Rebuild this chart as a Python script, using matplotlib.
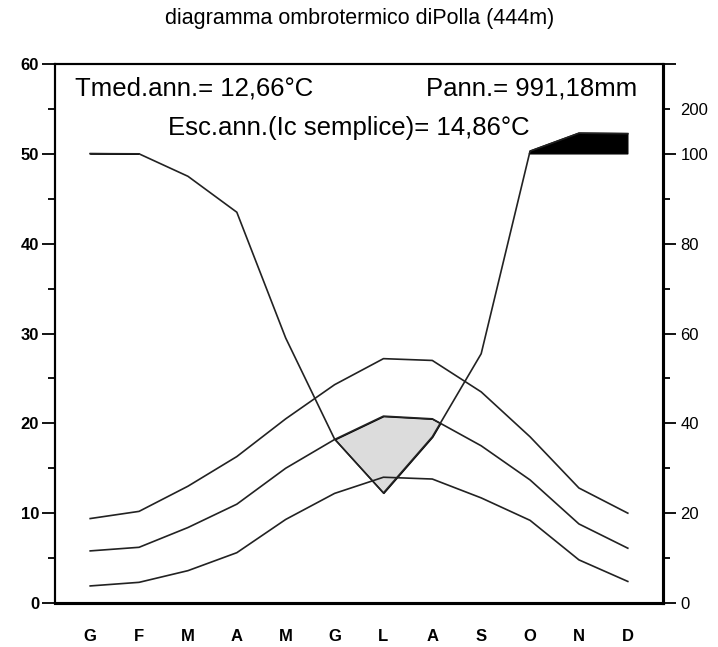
import matplotlib

matplotlib.use("Agg")
import matplotlib.pyplot as plt
import numpy as np

plt.rcParams["font.family"] = ["Liberation Sans", "DejaVu Sans"]

months = ["G", "F", "M", "A", "M", "G", "L", "A", "S", "O", "N", "D"]
t_max = [9.4, 10.2, 13.0, 16.3, 20.5, 24.3, 27.2, 27.0, 23.5, 18.5, 12.8, 10.0]
t_mean = [5.8, 6.2, 8.4, 11.0, 15.0, 18.2, 20.8, 20.5, 17.5, 13.7, 8.8, 6.1]
t_min = [1.9, 2.3, 3.6, 5.6, 9.3, 12.2, 14.0, 13.8, 11.7, 9.2, 4.8, 2.4]
precip = [100.5, 100.0, 95.0, 87.0, 59.0, 36.5, 24.5, 37.0, 55.5, 106.0, 146.0, 145.0]

right_major = [0, 20, 40, 60, 80, 100]
right_minor = [10, 30, 50, 70, 90, 200]


def p2t(p):
    # Walter-Lieth scale: 2 mm per degree up to 100 mm, then compressed 20 mm per degree
    p = np.asarray(p, dtype=float)
    return np.where(p <= 100, p / 2.0, 50 + (p - 100) / 20.0)


x = np.arange(len(months))
pt = p2t(precip)
tm = np.array(t_mean)

fig = plt.figure(figsize=(7.18, 6.47), dpi=100)
ax = fig.add_axes([55 / 718, 1 - 603 / 647, 608 / 718, 539 / 647])

ax.fill_between(x, pt, tm, where=pt < tm, interpolate=True,
                facecolor="#dcdcdc", edgecolor="black", linewidth=1.0, zorder=1)
ax.fill_between(x, 50, pt, where=pt > 50, interpolate=True,
                facecolor="black", edgecolor="black", linewidth=1.0, zorder=1)

for series in (t_max, t_mean, t_min):
    ax.plot(x, series, color="#222222", lw=1.2, zorder=2)
ax.plot(x, pt, color="#222222", lw=1.2, zorder=2)

ax.set_xlim(-0.72, 11.72)
ax.set_ylim(0, 60)
ax.set_xticks(x)
ax.set_xticklabels(months, fontsize=12, fontweight="bold")
ax.tick_params(axis="x", length=0, pad=19)

ax.set_yticks(np.arange(0, 61, 10))
ax.set_yticks(np.arange(5, 60, 10), minor=True)
ax.tick_params(axis="y", which="major", direction="out", length=9.5, width=1.3,
               labelsize=12, pad=2)
ax.tick_params(axis="y", which="minor", direction="out", length=5, width=1.3)
for lb in ax.get_yticklabels():
    lb.set_fontweight("bold")

ax2 = ax.twinx()
ax2.set_ylim(0, 60)
ax2.set_yticks(list(p2t(right_major)) + [60])
ax2.set_yticklabels([str(v) for v in right_major] + [""])
ax2.set_yticks(p2t(right_minor), minor=True)
ax2.set_yticklabels(["", "", "", "", "", "200"], minor=True)
ax2.tick_params(axis="y", which="major", direction="out", length=9.5, width=1.3,
                labelsize=12, pad=3)
ax2.tick_params(axis="y", which="minor", direction="out", length=5, width=1.3,
                labelsize=12, pad=7.5)

for a in (ax, ax2):
    a.spines["left"].set_linewidth(1.5)
    a.spines["top"].set_linewidth(1.5)
    a.spines["bottom"].set_linewidth(2.2)
    a.spines["right"].set_linewidth(2.2)

ax.text(0.033, 0.954, "Tmed.ann.= 12,66°C", transform=ax.transAxes,
        fontsize=18.5, ha="left", va="center")
ax.text(0.957, 0.954, "Pann.= 991,18mm", transform=ax.transAxes,
        fontsize=18.5, ha="right", va="center")
ax.text(0.484, 0.881, "Esc.ann.(Ic semplice)= 14,86°C", transform=ax.transAxes,
        fontsize=18.5, ha="center", va="center")

fig.text(0.501, 0.972, "diagramma ombrotermico diPolla (444m)",
         fontsize=15.5, ha="center", va="center")

fig.savefig("out.png", dpi=100)
